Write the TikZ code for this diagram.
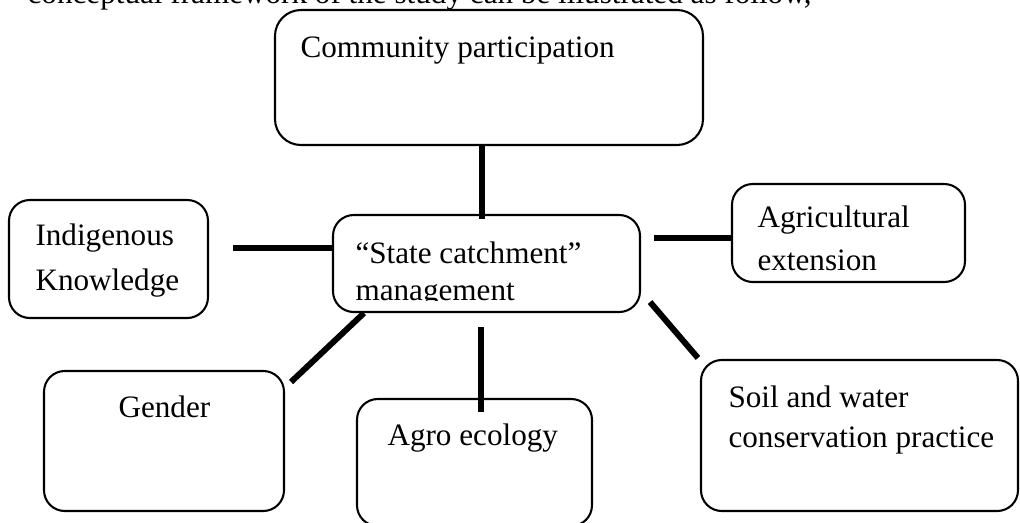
\documentclass[tikz,border=0pt]{standalone}
\usepackage{fontspec}
\setmainfont{Liberation Serif}
\usetikzlibrary{fit,calc}
\tikzset{
  frame/.style={rectangle, rounded corners=8pt, draw, line width=0.8pt, inner sep=0pt},
  boxtext/.style={inner sep=0pt, anchor=base west, align=left},
  link/.style={line width=2.3pt}
}
\begin{document}
\begin{tikzpicture}[x=0.385pt, y=-0.385pt, font=\fontsize{12}{14}\selectfont]
\useasboundingbox (0,0) rectangle (1020,522);
\clip (0,0) rectangle (1020,522);
\node (Intro) [inner sep=0pt, anchor=base east] at (812,3) {conceptual framework of the study can be illustrated as follow,};
\node (CP) [frame, rounded corners=10pt, fit={(275,10) (703,145)}] {};
\node (CPText) [boxtext] at (300,57) {Community participation};
\node (SC) [frame, fit={(333,215) (640,312)}] {};
\begin{scope}
\clip (SC.north west) rectangle ($(SC.south east)+(0,-13)$);
\node (SCText) [boxtext, font=\fontsize{12}{14.2}\selectfont] at (355,300) {“State catchment”\\management};
\end{scope}
\path [link] ($(CP.south)+(-7,0)$) edge ($(SC.north)+(-4.5,5)$);
\node (IK) [frame, fit={(9,200) (208,318)}] {};
\node (IKText) [boxtext, font=\fontsize{12}{17.3}\selectfont] at (35,290) {Indigenous\\Knowledge};
\path [link] ($(IK.east)+(24,-11)$) edge ($(SC.west)+(0,-15.5)$);
\node (AE) [frame, fit={(732,184) (965,282)}] {};
\begin{scope}
\clip (AE.north west) rectangle ($(AE.south east)+(0,-12)$);
\node (AEText) [boxtext, font=\fontsize{12}{16.2}\selectfont] at (757,270) {Agricultural\\extension};
\end{scope}
\path [link] ($(SC.east)+(13,-25.5)$) edge ($(AE.west)+(0,5)$);
\node (GD) [frame, fit={(44,371) (284,511)}] {};
\node (GDText) [boxtext] at (118,417) {Gender};
\path [link] ($(GD.north east)+(6,12)$) edge ($(SC.south west)+(32,0)$);
\node (AG) [frame, fit={(357,399) (592,526)}] {};
\node (AGText) [boxtext] at (387,445) {Agro ecology};
\path [link] ($(SC.south)+(-5.5,14)$) edge ($(AG.north)+(6.5,14)$);
\node (SW) [frame, fit={(701,360) (1018,511)}] {};
\node (SWText) [boxtext, font=\fontsize{12}{15.4}\selectfont] at (728,447) {Soil and water\\conservation practice};
\path [link] ($(SC.south east)+(9,-11)$) edge ($(SW.north west)+(-2,-1)$);
\end{tikzpicture}
\end{document}
